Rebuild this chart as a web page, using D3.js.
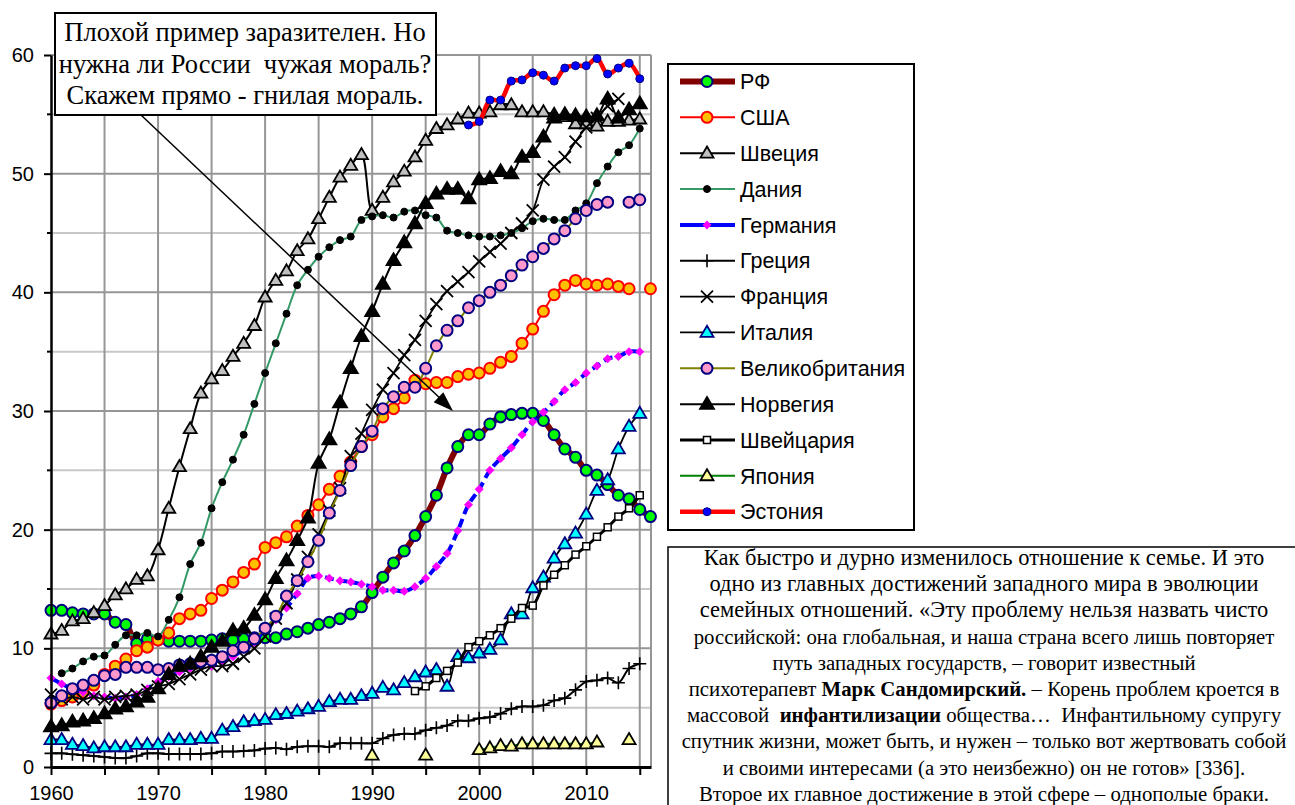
<!DOCTYPE html>
<html>
<head>
<meta charset="utf-8">
<script src="https://cdn.jsdelivr.net/npm/d3@7"></script>
<style>
  body { margin: 0; background: #fff; }
</style>
</head>
<body>
<div class="chart"></div>
<script>
// share of births outside marriage, %
var years = [1960,1961,1962,1963,1964,1965,1966,1967,1968,1969,
             1970,1971,1972,1973,1974,1975,1976,1977,1978,1979,
             1980,1981,1982,1983,1984,1985,1986,1987,1988,1989,
             1990,1991,1992,1993,1994,1995,1996,1997,1998,1999,
             2000,2001,2002,2003,2004,2005,2006,2007,2008,2009,
             2010,2011,2012,2013,2014,2015,2016];

var rf = [13.2,13.2,13.0,12.9,12.9,12.9,12.2,12.0,10.4,10.8,
          10.7,10.6,10.6,10.6,10.6,10.7,10.8,10.7,10.8,10.9,
          10.9,10.9,11.2,11.4,11.7,12.0,12.2,12.5,12.9,13.5,
          14.7,16.0,17.2,18.2,19.5,21.1,22.9,25.2,27.0,28.0,
          28.0,28.9,29.5,29.7,29.8,29.8,29.2,28.0,26.8,26.1,
          25.0,24.6,23.8,22.9,22.6,21.7,21.1];
var usa = [5.3,5.6,5.9,6.3,6.9,7.8,8.5,9.1,9.8,10.1,
           10.7,11.3,12.5,12.9,13.2,14.2,14.9,15.6,16.4,17.1,
           18.5,18.9,19.4,20.3,21.2,22.1,23.4,24.5,25.7,27.0,
           28.0,29.5,30.2,31.1,32.6,32.3,32.4,32.4,32.9,33.1,
           33.2,33.6,34.1,34.6,35.7,36.9,38.4,39.8,40.6,41.0,
           40.7,40.6,40.7,40.5,40.3,null,40.3];
var sweden = [11.2,11.5,12.3,12.5,13.0,13.6,14.5,15.0,15.8,16.1,
              18.3,21.8,25.3,28.5,31.5,32.7,33.4,34.6,35.7,37.2,
              39.6,41.0,41.8,43.5,44.5,46.2,48.0,49.7,50.7,51.6,
              46.9,48.0,49.3,50.2,51.4,52.8,53.8,54.1,54.6,55.1,
              55.1,55.2,55.8,55.8,55.2,55.2,55.2,55.0,54.8,54.2,
              54.2,54.0,54.4,54.4,54.5,54.6,null];
var denmark = [null,7.9,8.3,8.9,9.3,9.4,10.3,11.1,11.1,11.3,
               11.0,12.4,14.3,17.1,18.9,21.8,24.0,25.9,28.0,30.6,
               33.2,35.7,38.2,40.6,41.9,43.0,43.8,44.4,44.7,46.1,
               46.4,46.5,46.3,46.8,46.9,46.5,46.3,45.2,45.0,44.8,
               44.7,44.7,44.8,45.0,45.4,46.0,46.2,46.1,46.1,46.9,
               47.5,49.2,50.6,51.8,52.4,53.8,null];
var germany = [7.5,7.0,6.6,6.3,6.0,5.9,5.8,5.9,6.1,6.6,
               7.2,7.6,8.0,8.3,8.5,8.5,8.8,9.3,9.9,10.5,
               11.6,12.4,13.4,14.6,15.9,16.1,15.9,15.7,15.6,15.4,
               15.2,14.9,14.9,14.8,15.2,15.9,16.9,18.0,19.9,22.1,
               23.4,25.0,26.0,26.9,28.0,29.1,29.9,30.8,31.8,32.4,
               33.2,33.8,34.4,34.6,35.0,35.0,null];
var greece = [1.15,1.15,1.07,1.0,0.93,0.84,0.76,0.76,0.93,1.15,
              1.15,1.1,1.1,1.1,1.1,1.15,1.3,1.3,1.35,1.4,
              1.55,1.6,1.5,1.7,1.75,1.75,1.7,2.0,2.0,2.0,
              2.0,2.4,2.7,2.8,2.8,3.1,3.3,3.5,3.9,3.9,
              4.1,4.2,4.5,4.9,5.1,5.1,5.2,5.6,5.8,6.5,
              7.2,7.3,7.5,7.1,8.3,8.7,null];
var france = [6.1,5.7,5.9,5.7,5.9,5.7,5.9,6.0,6.1,6.5,
              6.8,7.0,7.4,7.8,8.2,8.5,8.5,8.7,9.3,10.0,
              11.0,12.5,13.8,15.8,17.7,19.6,21.6,23.5,26.2,28.1,
              30.1,31.8,33.2,34.7,36.0,37.6,39.0,40.1,40.9,41.7,
              42.6,43.4,44.1,45.0,45.8,46.9,49.5,50.6,51.4,52.7,
              53.9,54.7,55.7,56.3,null,null,null];
var italy = [2.3,2.3,1.9,1.8,1.6,1.7,1.7,1.7,1.9,1.9,
             1.9,2.3,2.3,2.3,2.4,2.4,3.1,3.4,3.8,3.9,
             4.0,4.4,4.5,4.7,4.9,5.1,5.5,5.7,5.7,6.0,
             6.2,6.7,6.5,7.1,7.6,8.0,8.2,6.8,9.3,9.2,
             9.6,9.9,10.7,12.9,12.9,15.1,16.0,17.6,18.8,19.7,
             21.3,23.3,24.2,26.8,28.7,29.8,null];
var uk = [5.4,6.0,6.6,6.9,7.3,7.7,7.8,8.4,8.4,8.4,
          8.2,8.3,8.6,8.7,8.9,9.0,9.3,9.8,10.1,10.8,
          11.7,12.7,14.4,15.7,17.3,19.1,21.4,23.3,25.4,27.0,
          28.3,30.2,31.2,32.0,32.0,33.6,35.5,36.8,37.6,38.7,
          39.3,40.0,40.6,41.4,42.3,43.0,43.7,44.5,45.2,46.2,
          46.9,47.4,47.6,null,47.6,47.8,null];
var norway = [3.4,3.5,3.8,3.9,4.1,4.5,4.9,5.1,5.5,5.9,
              6.6,7.8,8.5,8.7,9.3,10.1,10.6,11.5,11.7,12.8,
              14.1,15.9,17.4,19.1,21.0,25.6,27.6,30.7,33.6,36.3,
              38.4,40.7,42.7,44.2,45.8,47.5,48.3,48.7,48.7,47.9,
              49.5,49.6,50.2,50.0,51.4,51.8,53.1,54.7,55.0,54.9,
              54.8,54.9,56.3,54.7,55.4,55.9,null];
var switzerland = [null,null,null,null,null,null,null,null,null,null,
                   null,null,null,null,null,null,null,null,null,null,
                   null,null,null,null,null,null,null,null,null,null,
                   null,null,null,null,6.4,6.8,7.5,8.1,8.8,10.1,
                   10.6,11.1,11.7,12.5,13.4,13.6,15.3,16.2,17.0,17.9,
                   18.6,19.4,20.2,21.1,21.8,22.9,null];
var japan = [null,null,null,null,null,null,null,null,null,null,
             null,null,null,null,null,null,null,null,null,null,
             null,null,null,null,null,null,null,null,null,null,
             1.0,null,null,null,null,1.0,null,null,null,null,
             1.45,1.6,1.8,1.75,1.95,1.95,1.95,1.95,1.95,1.95,
             1.95,2.1,null,null,2.3,null,null];
var estonia = [null,null,null,null,null,null,null,null,null,null,
               null,null,null,null,null,null,null,null,null,null,
               null,null,null,null,null,null,null,null,null,null,
               null,null,null,null,null,null,null,null,null,54.1,
               54.4,56.2,56.2,57.8,57.9,58.5,58.3,57.8,58.9,59.1,
               59.1,59.7,58.4,58.9,59.3,58.0,null];

var yTicks = [0,10,20,30,40,50,60];
var yMinor = [5,15,25,35,45,55];
var xTicks = [1960,1965,1970,1975,1980,1985,1990,1995,2000,2005,2010,2015];

var series = [
  {name:"РФ", values:rf, color:"#800000", width:6, marker:"circle", fill:"#00ff00", mstroke:"#000080", size:5.5},
  {name:"США", values:usa, color:"#ff0000", width:2, marker:"circle", fill:"#ffc000", mstroke:"#ff0000", size:5.5},
  {name:"Швеция", values:sweden, color:"#000000", width:2, marker:"triangle", fill:"#c0c0c0", mstroke:"#000000", size:13},
  {name:"Дания", values:denmark, color:"#339966", width:2, marker:"circle", fill:"#000000", mstroke:"#000000", size:3.5},
  {name:"Германия", values:germany, color:"#0000ff", width:4, dash:"9,5", marker:"diamond", fill:"#ff00ff", mstroke:"none", size:9},
  {name:"Греция", values:greece, color:"#000000", width:2, marker:"plus", fill:"none", mstroke:"#000000", size:13},
  {name:"Франция", values:france, color:"#000000", width:1.8, marker:"x", fill:"none", mstroke:"#000000", size:12},
  {name:"Италия", values:italy, color:"#000000", width:1.8, marker:"triangle", fill:"#00ffff", mstroke:"#000080", size:13},
  {name:"Великобритания", values:uk, color:"#808000", width:2, marker:"circle", fill:"#ff99cc", mstroke:"#000080", size:5.5},
  {name:"Норвегия", values:norway, color:"#000000", width:2, marker:"triangle", fill:"#000000", mstroke:"#000000", size:14},
  {name:"Швейцария", values:switzerland, color:"#000000", width:3, marker:"square", fill:"#ffffff", mstroke:"#000000", size:7},
  {name:"Япония", values:japan, color:"#008000", width:2, marker:"triangle", fill:"#ffff99", mstroke:"#000000", size:13},
  {name:"Эстония", values:estonia, color:"#ff0000", width:4.5, marker:"circle", fill:"#0000ff", mstroke:"#000080", size:4}
];

var svg = d3.select(".chart").append("svg")
    .attr("width", 1295)
    .attr("height", 805)
    .style("font-family", "'Liberation Sans', Arial, sans-serif");

var x = d3.scaleLinear().domain([1960, 2016.05]).range([51, 651]);
var y = d3.scaleLinear().domain([0, 60]).range([767, 55]);

// grid
svg.selectAll("line.hgrid")
    .data(yTicks.concat(yMinor).filter(function (d) { return d > 0; }))
    .enter().append("line")
    .attr("x1", x(1960)).attr("x2", x(2016.05))
    .attr("y1", function (d) { return y(d); })
    .attr("y2", function (d) { return y(d); })
    .attr("stroke", function (d) { return d % 10 === 0 ? "#969696" : "#c8c8c8"; })
    .attr("stroke-width", 2);
svg.selectAll("line.vgrid")
    .data(xTicks.filter(function (d) { return d > 1960; }).concat([2016.05]))
    .enter().append("line")
    .attr("y1", y(0)).attr("y2", y(60))
    .attr("x1", function (d) { return x(d); })
    .attr("x2", function (d) { return x(d); })
    .attr("stroke", "#969696")
    .attr("stroke-width", 2);

function drawMarker(g, s, cx, cy) {
  var k = s.size;
  if (s.marker === "circle") {
    g.append("circle").attr("cx", cx).attr("cy", cy).attr("r", k)
        .attr("fill", s.fill).attr("stroke", s.mstroke)
        .attr("stroke-width", k > 4.5 ? 2 : 1);
  } else if (s.marker === "triangle") {
    var h = k * 0.85;
    g.append("path")
        .attr("d", "M" + cx + "," + (cy - h * 0.6) + "L" + (cx + k / 2) + "," + (cy + h * 0.4) +
                   "L" + (cx - k / 2) + "," + (cy + h * 0.4) + "Z")
        .attr("fill", s.fill).attr("stroke", s.mstroke).attr("stroke-width", 1.8)
        .attr("stroke-linejoin", "miter");
  } else if (s.marker === "diamond") {
    var r = k / 2;
    g.append("path")
        .attr("d", "M" + cx + "," + (cy - r) + "L" + (cx + r) + "," + cy + "L" + cx + "," + (cy + r) +
                   "L" + (cx - r) + "," + cy + "Z")
        .attr("fill", s.fill);
  } else if (s.marker === "plus") {
    var p = k / 2;
    g.append("path")
        .attr("d", "M" + (cx - p) + "," + cy + "H" + (cx + p) + "M" + cx + "," + (cy - p) + "V" + (cy + p))
        .attr("stroke", s.mstroke).attr("stroke-width", 1.6);
  } else if (s.marker === "x") {
    var q = k / 2;
    g.append("path")
        .attr("d", "M" + (cx - q) + "," + (cy - q) + "L" + (cx + q) + "," + (cy + q) +
                   "M" + (cx - q) + "," + (cy + q) + "L" + (cx + q) + "," + (cy - q))
        .attr("stroke", s.mstroke).attr("stroke-width", 1.8);
  } else if (s.marker === "square") {
    g.append("rect").attr("x", cx - k / 2).attr("y", cy - k / 2)
        .attr("width", k).attr("height", k)
        .attr("fill", s.fill).attr("stroke", s.mstroke).attr("stroke-width", 1.5);
  }
}

var line = d3.line()
    .defined(function (d) { return d[1] != null; })
    .x(function (d) { return x(d[0]); })
    .y(function (d) { return y(d[1]); })
    .curve(d3.curveCatmullRom.alpha(0.5));

series.forEach(function (s) {
  var pts = years.map(function (yr, i) { return [yr, s.values[i]]; });
  var g = svg.append("g");
  g.append("path")
      .attr("d", line(pts))
      .attr("fill", "none")
      .attr("stroke", s.color)
      .attr("stroke-width", s.width)
      .attr("stroke-dasharray", s.dash || null)
      .attr("stroke-linejoin", "round");
  pts.forEach(function (d) {
    if (d[1] != null) drawMarker(g, s, x(d[0]), y(d[1]));
  });
});

// axes
var yAxis = svg.append("g")
    .attr("transform", "translate(" + x(1960) + ",0)")
    .call(d3.axisLeft(y).tickValues(yTicks).tickSize(7).tickSizeOuter(0).tickPadding(10));
yAxis.select(".domain").attr("stroke", "#000").attr("stroke-width", 2.5);
yAxis.selectAll(".tick line").attr("stroke-width", 2);
yAxis.selectAll(".tick text").style("font-size", "20px").attr("fill", "#000");
svg.selectAll("line.yminor")
    .data(yMinor).enter().append("line")
    .attr("x1", x(1960) - 4).attr("x2", x(1960))
    .attr("y1", function (d) { return y(d); })
    .attr("y2", function (d) { return y(d); })
    .attr("stroke", "#000").attr("stroke-width", 2);

var xAxis = svg.append("g")
    .attr("transform", "translate(0," + y(0) + ")")
    .call(d3.axisBottom(x).tickValues(xTicks).tickSize(8).tickSizeOuter(0).tickPadding(11)
        .tickFormat(function (d) { return d % 10 === 0 ? d : ""; }));
xAxis.select(".domain").attr("stroke", "#000").attr("stroke-width", 3);
xAxis.selectAll(".tick line").attr("stroke-width", 2);
xAxis.selectAll(".tick text").style("font-size", "20px").attr("fill", "#000");

// callout box with arrow
var note = svg.append("g").style("font-family", "'Liberation Serif', 'Times New Roman', serif");
note.append("line")
    .attr("x1", 141).attr("y1", 115).attr("x2", 444).attr("y2", 402)
    .attr("stroke", "#000").attr("stroke-width", 1.5);
var ang = Math.atan2(411 - 115, 453 - 141);
var tip = [453, 411];
function rot(dx, dy) {
  return [tip[0] + dx * Math.cos(ang) - dy * Math.sin(ang), tip[1] + dx * Math.sin(ang) + dy * Math.cos(ang)];
}
note.append("path")
    .attr("d", "M" + tip.join(",") + "L" + rot(-20, -7).join(",") + "L" + rot(-20, 7).join(",") + "Z")
    .attr("fill", "#000");
note.append("rect")
    .attr("x", 55).attr("y", 13).attr("width", 381).attr("height", 102)
    .attr("fill", "#fff").attr("stroke", "#000").attr("stroke-width", 2);
["Плохой пример заразителен. Но", "нужна ли России  чужая мораль?", "Скажем прямо - гнилая мораль."]
  .forEach(function (t, i) {
    note.append("text")
        .attr("x", 245).attr("y", 41 + i * 31.5)
        .attr("text-anchor", "middle")
        .style("font-size", "26.5px")
        .style("white-space", "pre")
        .text(t);
  });

// legend
var lg = svg.append("g");
lg.append("rect")
    .attr("x", 668).attr("y", 64).attr("width", 246).attr("height", 466)
    .attr("fill", "#fff").attr("stroke", "#000").attr("stroke-width", 2);
series.forEach(function (s, i) {
  var ry = 81.5 + i * 35.85;
  lg.append("line")
      .attr("x1", 680).attr("x2", 735).attr("y1", ry).attr("y2", ry)
      .attr("stroke", s.color).attr("stroke-width", s.width);
  drawMarker(lg, s, 707, ry);
  lg.append("text")
      .attr("x", 740).attr("y", ry).attr("dy", "0.36em")
      .style("font-size", "21.5px")
      .text(s.name);
});

// quotation text box
var tb = svg.append("g").style("font-family", "'Liberation Serif', 'Times New Roman', serif");
tb.append("rect")
    .attr("x", 668).attr("y", 547).attr("width", 640).attr("height", 270)
    .attr("fill", "#fff").attr("stroke", "#000").attr("stroke-width", 1.5);
var quote = [
  [["Как быстро и дурно изменилось отношение к семье. И это", false]],
  [["одно из главных достижений западного мира в эволюции", false]],
  [["семейных отношений. «Эту проблему нельзя назвать чисто", false]],
  [["российской: она глобальная, и наша страна всего лишь повторяет", false]],
  [["путь западных государств, – говорит известный", false]],
  [["психотерапевт ", false], ["Марк Сандомирский.", true], [" – Корень проблем кроется в", false]],
  [["массовой  ", false], ["инфантилизации", true], [" общества…  Инфантильному супругу", false]],
  [["спутник жизни, может быть, и нужен – только вот жертвовать собой", false]],
  [["и своими интересами (а это неизбежно) он не готов» [336].", false]],
  [["Второе их главное достижение в этой сфере – однополые браки.", false]]
];
quote.forEach(function (parts, i) {
  var t = tb.append("text")
      .attr("x", 984).attr("y", 565 + i * 26.2)
      .attr("text-anchor", "middle")
      .style("font-size", i < 3 ? "22.5px" : "20.8px")
      .style("white-space", "pre");
  parts.forEach(function (p) {
    t.append("tspan")
        .style("font-weight", p[1] ? "bold" : "normal")
        .text(p[0]);
  });
});
</script>
</body>
</html>
